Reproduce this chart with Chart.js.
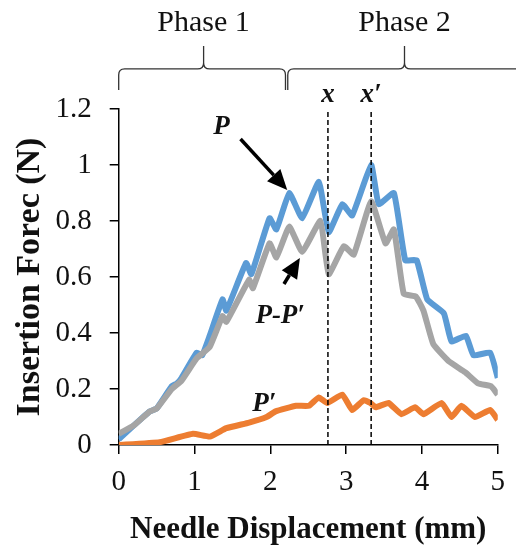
<!DOCTYPE html>
<html>
<head>
<meta charset="utf-8">
<script src="https://cdn.jsdelivr.net/npm/chart.js@4.4.0/dist/chart.umd.min.js"></script>
<style>
  html, body { margin: 0; padding: 0; background: #fff; }
</style>
</head>
<body>
<canvas id="chart" width="516" height="547"></canvas>
<script>
// P (total force)
const pX = [0, 0.2, 0.41, 0.5, 0.7, 0.77, 0.83, 1.03, 1.1, 1.2, 1.37, 1.42, 1.68, 1.75, 1.99, 2.08, 2.25, 2.42, 2.64, 2.77, 2.95, 3.08, 3.33, 3.43, 3.63, 3.78, 3.93, 4.07, 4.29, 4.39, 4.58, 4.68, 4.9, 5];
const pY = [0.02, 0.07, 0.12, 0.13, 0.21, 0.22, 0.24, 0.33, 0.32, 0.39, 0.52, 0.48, 0.65, 0.61, 0.81, 0.77, 0.9, 0.81, 0.94, 0.76, 0.86, 0.82, 1.0, 0.86, 0.9, 0.66, 0.66, 0.52, 0.47, 0.37, 0.39, 0.32, 0.33, 0.24];
// P-P'
const ppX = [0, 0.2, 0.41, 0.5, 0.7, 0.83, 1.03, 1.2, 1.37, 1.42, 1.72, 1.77, 1.99, 2.08, 2.25, 2.42, 2.66, 2.77, 2.97, 3.1, 3.33, 3.52, 3.63, 3.76, 3.92, 4.02, 4.15, 4.35, 4.57, 4.74, 4.91, 5];
const ppY = [0.04, 0.07, 0.12, 0.13, 0.2, 0.23, 0.31, 0.35, 0.46, 0.44, 0.59, 0.56, 0.72, 0.67, 0.78, 0.69, 0.8, 0.61, 0.71, 0.68, 0.87, 0.72, 0.77, 0.54, 0.53, 0.48, 0.36, 0.3, 0.26, 0.22, 0.21, 0.18];
// P'
const qX = [0, 0.54, 0.98, 1.2, 1.42, 1.72, 1.95, 2.07, 2.34, 2.51, 2.64, 2.75, 2.95, 3.08, 3.23, 3.32, 3.39, 3.56, 3.73, 3.91, 4.02, 4.26, 4.39, 4.52, 4.7, 4.9, 5];
const qY = [0, 0.01, 0.04, 0.03, 0.06, 0.08, 0.1, 0.12, 0.14, 0.14, 0.17, 0.15, 0.18, 0.125, 0.16, 0.15, 0.135, 0.15, 0.11, 0.135, 0.11, 0.15, 0.1, 0.14, 0.1, 0.125, 0.09];

const markX = [2.76, 3.33];
const markLabels = ['x', 'x\u2032'];
const xTicks = [0, 1, 2, 3, 4, 5];
const yTicks = [0, 0.2, 0.4, 0.6, 0.8, 1, 1.2];

const serif = '"Liberation Serif", "Times New Roman", serif';

function pts(xs, ys) {
  return xs.map((v, i) => ({x: v, y: ys[i]}));
}

function drawBrace(ctx, x0, x1, xm, yEnd, yLine, yTip) {
  const r = 6;
  ctx.beginPath();
  ctx.moveTo(x0, yEnd);
  ctx.lineTo(x0, yLine + r);
  ctx.quadraticCurveTo(x0, yLine, x0 + r, yLine);
  ctx.lineTo(xm - r, yLine);
  ctx.quadraticCurveTo(xm, yLine, xm, yLine - r);
  ctx.lineTo(xm, yTip);
  ctx.moveTo(xm, yLine - r);
  ctx.quadraticCurveTo(xm, yLine, xm + r, yLine);
  ctx.lineTo(x1 - r, yLine);
  ctx.quadraticCurveTo(x1, yLine, x1, yLine + r);
  ctx.lineTo(x1, yEnd);
  ctx.stroke();
}

function arrow(ctx, x0, y0, x1, y1) {
  const a = Math.atan2(y1 - y0, x1 - x0), L = 20, W = 9;
  const bx = x1 - L * Math.cos(a), by = y1 - L * Math.sin(a);
  ctx.lineWidth = 3.5;
  ctx.beginPath();
  ctx.moveTo(x0, y0);
  ctx.lineTo(bx, by);
  ctx.stroke();
  ctx.beginPath();
  ctx.moveTo(x1, y1);
  ctx.lineTo(bx + W * Math.sin(a), by - W * Math.cos(a));
  ctx.lineTo(bx - W * Math.sin(a), by + W * Math.cos(a));
  ctx.closePath();
  ctx.fill();
}

const notes = {
  id: 'notes',
  afterDatasetsDraw(chart) {
    const {ctx, scales: {x, y}} = chart;
    const px = v => x.getPixelForValue(v), py = v => y.getPixelForValue(v);
    ctx.save();
    ctx.strokeStyle = '#333';
    ctx.lineWidth = 1.3;
    drawBrace(ctx, px(0), px(2.2), px(1.12), py(1.268), py(1.343), py(1.425));
    drawBrace(ctx, px(2.23), px(5.4), px(3.77), py(1.268), py(1.343), py(1.425));

    ctx.fillStyle = '#111';
    ctx.textAlign = 'center';
    ctx.textBaseline = 'middle';
    ctx.font = '30px ' + serif;
    ctx.fillText('Phase 1', px(1.12), py(1.507));
    ctx.fillText('Phase 2', px(3.77), py(1.507));

    ctx.font = 'bold italic 27px ' + serif;
    markX.forEach((v, i) => ctx.fillText(markLabels[i], px(v), py(1.25)));
    ctx.fillText('P', px(1.357), py(1.136));
    ctx.fillText('P-P\u2032', px(2.13), py(0.46));
    ctx.fillText('P\u2032', px(1.92), py(0.146));

    ctx.fillStyle = '#000';
    ctx.strokeStyle = '#000';
    arrow(ctx, px(1.607), py(1.093), px(2.223), py(0.911));
    arrow(ctx, px(2.18), py(0.575), px(2.39), py(0.668));
    ctx.restore();
  }
};

const lineStyle = {borderWidth: 6, pointRadius: 0, tension: 0.12, fill: false};

new Chart(document.getElementById('chart'), {
  type: 'line',
  data: {
    datasets: [
      Object.assign({label: 'P-P\u2032', data: pts(ppX, ppY), borderColor: '#a5a5a5', order: 1}, lineStyle),
      Object.assign({label: 'P', data: pts(pX, pY), borderColor: '#5b9bd5', order: 2}, lineStyle),
      Object.assign({label: 'P\u2032', data: pts(qX, qY), borderColor: '#ed7d31', order: 3}, lineStyle),
      {label: 'x', data: [{x: markX[0], y: 0}, {x: markX[0], y: 1.196}], borderColor: '#000', borderWidth: 1.5, borderDash: [5, 3], pointRadius: 0, order: 0},
      {label: 'x2', data: [{x: markX[1], y: 0}, {x: markX[1], y: 1.19}], borderColor: '#000', borderWidth: 1.5, borderDash: [5, 3], pointRadius: 0, order: 0}
    ]
  },
  options: {
    responsive: false,
    animation: false,
    layout: {padding: {left: 10, right: 16, top: 109, bottom: 0}},
    plugins: {legend: {display: false}, tooltip: {enabled: false}},
    scales: {
      x: {
        type: 'linear', min: 0, max: 5,
        afterBuildTicks: s => { s.ticks = xTicks.map(v => ({value: v})); },
        afterFit: s => { s.height = 102; },
        grid: {drawOnChartArea: false, drawTicks: true, tickLength: 9, color: '#000', lineWidth: 1.5},
        border: {color: '#000', width: 1.5},
        ticks: {color: '#111', padding: 11, font: {family: serif, size: 29}},
        title: {display: true, text: 'Needle Displacement (mm)', color: '#111', padding: {top: 0, bottom: -2}, font: {family: serif, size: 31, weight: 'bold'}}
      },
      y: {
        min: 0, max: 1.2,
        afterBuildTicks: s => { s.ticks = yTicks.map(v => ({value: v})); },
        afterFit: s => { s.width = 108.7; },
        grid: {drawOnChartArea: false, drawTicks: true, tickLength: 9, color: '#000', lineWidth: 1.5},
        border: {color: '#000', width: 1.5},
        ticks: {color: '#111', padding: 18, font: {family: serif, size: 29}, callback: v => String(+v.toFixed(1))},
        title: {display: true, text: 'Insertion Forec (N)', color: '#111', padding: {top: 0, bottom: 0}, font: {family: serif, size: 34, weight: 'bold'}}
      }
    }
  },
  plugins: [notes]
});
</script>
</body>
</html>
